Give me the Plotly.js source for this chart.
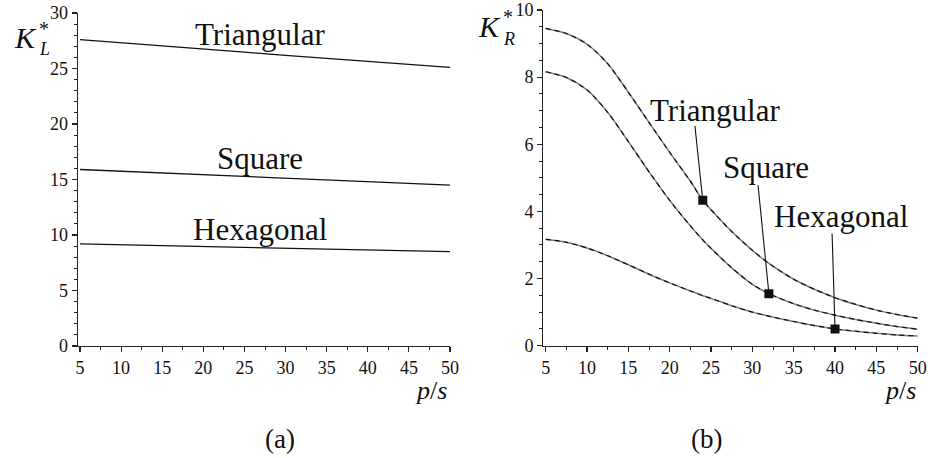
<!DOCTYPE html>
<html>
<head>
<meta charset="utf-8">
<script src="https://cdn.plot.ly/plotly-3.0.1.min.js"></script>
<style>
  html, body { margin: 0; padding: 0; background: #fff; }
  #chart { width: 928px; height: 458px; }
</style>
</head>
<body>
<div id="chart"></div>
<script>
// (a) lattice stiffness K_L* against pitch ratio p/s
const pL = [5, 10, 15, 20, 25, 30, 35, 40, 45, 50];
const kLTriangular = [27.6, 27.33, 27.05, 26.76, 26.47, 26.18, 25.9, 25.62, 25.36, 25.1];
const kLSquare     = [15.9, 15.75, 15.6, 15.45, 15.3, 15.14, 14.98, 14.82, 14.66, 14.5];
const kLHexagonal  = [9.2, 9.12, 9.04, 8.96, 8.88, 8.8, 8.72, 8.64, 8.57, 8.5];

// (b) K_R* against pitch ratio p/s
const pR = [5, 7.5, 10, 12.5, 15, 17.5, 20, 22.5, 24, 25, 27.5, 30, 32, 35, 37.5, 40, 42.5, 45, 47.5, 50];
const kRTriangular = [9.45, 9.3, 8.98, 8.4, 7.55, 6.65, 5.76, 4.9, 4.33, 4.05, 3.4, 2.84, 2.45, 1.98, 1.68, 1.43, 1.23, 1.06, 0.93, 0.82];
const kRSquare     = [8.16, 7.99, 7.62, 6.95, 6.08, 5.18, 4.33, 3.57, 3.15, 2.9, 2.32, 1.83, 1.55, 1.25, 1.06, 0.91, 0.78, 0.67, 0.57, 0.49];
const kRHexagonal  = [3.17, 3.08, 2.91, 2.68, 2.41, 2.13, 1.87, 1.63, 1.49, 1.41, 1.19, 1.0, 0.88, 0.72, 0.6, 0.5, 0.43, 0.37, 0.32, 0.29];

const seriesNames = ['Triangular', 'Square', 'Hexagonal'];
const markerP = [24, 32, 40];   // where each (b) curve is tagged
const xTicks = [5, 10, 15, 20, 25, 30, 35, 40, 45, 50];

const W = 928, H = 458;
const px = x => x / W;
const py = y => 1 - y / H;
const SERIF = 'Liberation Serif';

const traces = [];
[kLTriangular, kLSquare, kLHexagonal].forEach((k, i) => {
  traces.push({
    x: pL, y: k, xaxis: 'x', yaxis: 'y', mode: 'lines', name: seriesNames[i],
    line: { color: '#111', width: 1.3 }, hoverinfo: 'skip'
  });
});
const rightSeries = [kRTriangular, kRSquare, kRHexagonal];
rightSeries.forEach((k, i) => {
  traces.push({
    x: pR, y: k, xaxis: 'x2', yaxis: 'y2', mode: 'lines', name: seriesNames[i],
    line: { color: '#7a7a7a', width: 1.5, shape: 'spline', smoothing: 0.8 }, hoverinfo: 'skip'
  });
  traces.push({
    x: pR, y: k, xaxis: 'x2', yaxis: 'y2', mode: 'lines', name: seriesNames[i],
    line: { color: '#111', width: 1.2, dash: '5px,4px', shape: 'spline', smoothing: 0.8 }, hoverinfo: 'skip'
  });
});
const markerY = rightSeries.map((k, i) => k[pR.indexOf(markerP[i])]);
traces.push({
  x: markerP, y: markerY, xaxis: 'x2', yaxis: 'y2', mode: 'markers',
  marker: { symbol: 'square', size: 9, color: '#111' }, hoverinfo: 'skip'
});

const axisBase = {
  showgrid: false, zeroline: false, showline: true, linecolor: '#222', linewidth: 1.3,
  ticks: 'outside', ticklen: 5, tickwidth: 1.2, tickcolor: '#222',
  tickfont: { family: SERIF, size: 18, color: '#111' }, fixedrange: true
};
function xAxis(domain, lo, anchor) {
  return Object.assign({}, axisBase, {
    domain: domain, range: [lo, 50], anchor: anchor,
    tickvals: xTicks, ticktext: xTicks.map(String),
    minor: { dtick: 2.5, tick0: 5, ticks: 'outside', ticklen: 3, tickcolor: '#222', tickwidth: 1 }
  });
}
function yAxis(domain, hi, dtick, minorDt, anchor) {
  return Object.assign({}, axisBase, {
    domain: domain, range: [0, hi], anchor: anchor, dtick: dtick, tick0: 0,
    minor: { dtick: minorDt, tick0: 0, ticks: 'outside', ticklen: 3, tickcolor: '#222', tickwidth: 1 }
  });
}

function label(text, x, y, size, extra) {
  return Object.assign({
    text: text, xref: 'paper', yref: 'paper', x: px(x), y: py(y),
    xanchor: 'center', yanchor: 'middle', showarrow: false,
    font: { family: SERIF, size: size, color: '#111' }
  }, extra || {});
}

const annotations = [
  // panel (a) curve names
  label('Triangular', 260, 34, 31),
  label('Square', 260, 158, 31),
  label('Hexagonal', 260, 229, 31),
  // panel (b) curve names
  label('Triangular', 715, 110, 31),
  label('Square', 766, 168, 31),
  label('Hexagonal', 841, 216, 31),
  // axis symbols
  label('<i>K</i>', 25, 37, 30),
  label('*', 44, 29, 20),
  label('<i>L</i>', 44, 49, 18),
  label('<i>K</i>', 489, 26, 30),
  label('*', 508, 17, 20),
  label('<i>R</i>', 509, 39, 18),
  label('<i>p</i>/<i>s</i>', 431, 390, 26),
  label('<i>p</i>/<i>s</i>', 900, 390, 26),
  // sub-figure captions
  label('(a)', 280, 439, 27),
  label('(b)', 706, 439, 27)
];
// leader lines from each (b) name down to its tagged point
const leaderOffsets = [[-8, -76], [-11, -110], [-3, -97]];
markerP.forEach((p, i) => {
  annotations.push({
    x: p, y: markerY[i], xref: 'x2', yref: 'y2', text: '',
    showarrow: true, arrowhead: 0, arrowwidth: 1.1, arrowcolor: '#111',
    ax: leaderOffsets[i][0], ay: leaderOffsets[i][1], standoff: 0
  });
});

const layout = {
  width: W, height: H, margin: { l: 0, r: 0, t: 0, b: 0 },
  font: { family: SERIF, color: '#111' },
  paper_bgcolor: '#fff', plot_bgcolor: '#fff', showlegend: false,
  xaxis: xAxis([px(78), px(450)], 4.757, 'y'),
  yaxis: yAxis([py(346), py(13)], 30, 5, 1, 'x'),
  xaxis2: xAxis([px(543.3), px(917.7)], 4.71, 'y2'),
  yaxis2: yAxis([py(345.7), py(10)], 10, 2, 0.5, 'x2'),
  annotations: annotations
};

Plotly.newPlot('chart', traces, layout, { staticPlot: true, displayModeBar: false });
</script>
</body>
</html>
